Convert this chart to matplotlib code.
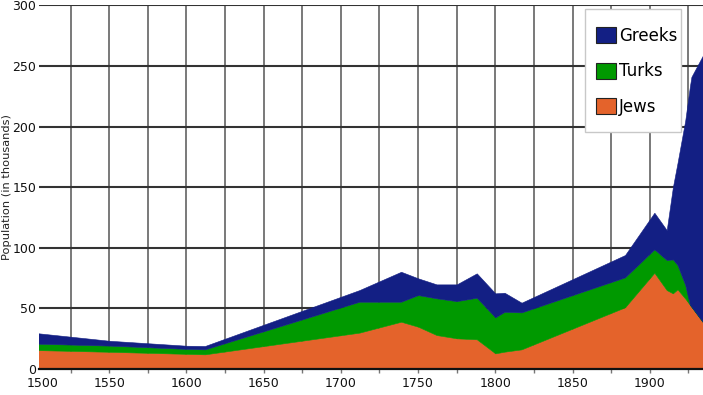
import matplotlib
matplotlib.use("Agg")
import matplotlib.pyplot as plt
from matplotlib.patches import Patch, Rectangle

# ---- data (population in thousands, stacked layers) ----
years = [1500, 1550, 1600, 1612, 1712, 1739, 1750, 1762, 1775, 1788, 1800, 1806,
         1817, 1884, 1903, 1911, 1915, 1918, 1923, 1926, 1927, 1935]
jews = [15.7, 14.2, 12.5, 12.1, 30.0, 39.0, 34.9, 28.0, 25.3, 24.5, 12.9, 14.3,
        16.2, 50.9, 79.4, 65.1, 62.4, 65.7, 58.1, 53.0, 51.4, 37.7]
turks = [5.3, 5.1, 4.1, 4.1, 25.5, 16.5, 26.1, 30.3, 30.7, 34.3, 29.7, 32.9,
         30.5, 24.7, 19.3, 24.8, 28.0, 20.0, 11.2, 0.0, 0.0, 0.0]
greeks = [9.0, 4.0, 2.6, 2.8, 9.6, 24.7, 13.8, 11.5, 13.8, 20.1, 19.8, 15.7,
          8.0, 18.4, 30.2, 24.7, 59.6, 84.3, 135.7, 180.0, 189.6, 222.3]

series_names = ["Jews", "Turks", "Greeks"]
legend_order = ["Greeks", "Turks", "Jews"]
colors = {"Greeks": "#131f84", "Turks": "#009900", "Jews": "#e4632b"}

y_ticks = [0, 50, 100, 150, 200, 250, 300]
x_major = [1550, 1600, 1650, 1700, 1750, 1800, 1850, 1900]
x_minor = [1525, 1575, 1625, 1675, 1725, 1775, 1825, 1875, 1925]
first_label = "1500"
ylabel = "Population (in thousands)"

# ---- figure ----
W, H = 703, 395
fig = plt.figure(figsize=(W / 100, H / 100), dpi=100)
ax = fig.add_axes([39 / W, 26 / H, 664 / W, 363.7 / H])

ax.stackplot(years, jews, turks, greeks,
             colors=[colors[n] for n in series_names],
             linewidth=0.4, edgecolor="face", zorder=2)

ax.set_xlim(1504.5, 1934.5)
ax.set_ylim(0, 300)
ax.set_yticks(y_ticks)
ax.set_xticks(x_major)
ax.set_xticks(x_minor, minor=True)
ax.set_xticklabels([str(v) for v in x_major])

ax.set_axisbelow(True)
ax.grid(axis="y", color="#333333", linewidth=1.5)
ax.grid(axis="x", which="both", color="#555555", linewidth=1.1)

for s in ["left", "right", "top"]:
    ax.spines[s].set_visible(False)
ax.spines["bottom"].set_color("#111111")
ax.spines["bottom"].set_linewidth(1.6)
ax.spines["bottom"].set_zorder(3)

ax.tick_params(axis="x", which="both", direction="out", length=3, width=1,
               color="#777777", pad=2.5, labelsize=9, labelcolor="#111111")
ax.tick_params(axis="y", length=0, pad=2, labelsize=9, labelcolor="#111111")

ax.annotate(first_label, xy=(0, 0), xycoords="axes fraction",
            xytext=(2.5, -5.5), textcoords="offset points",
            ha="center", va="top", fontsize=9, color="#111111")

ax.set_ylabel(ylabel, fontsize=8.2, color="#222222")
ax.yaxis.set_label_coords(-0.041, 0.5)

# legend frame (drawn separately to match the tight right padding)
frame = Rectangle((585 / W, 1 - 132 / H), 96 / W, 123 / H,
                  transform=fig.transFigure, facecolor="white",
                  edgecolor="#c8c8c8", linewidth=1.0, zorder=4, clip_on=False)
ax.add_artist(frame)

handles = [Patch(facecolor=colors[n], edgecolor="#222222", linewidth=0.8)
           for n in legend_order]
leg = ax.legend(handles, legend_order, loc="upper left",
                bbox_to_anchor=(596 / W, 1 - 27 / H), bbox_transform=fig.transFigure,
                fontsize=12, frameon=False, borderpad=0, labelspacing=1.05,
                handlelength=1.2, handleheight=1.08, handletextpad=0.2,
                borderaxespad=0)
leg.set_zorder(5)

fig.savefig("out.png", dpi=100)
